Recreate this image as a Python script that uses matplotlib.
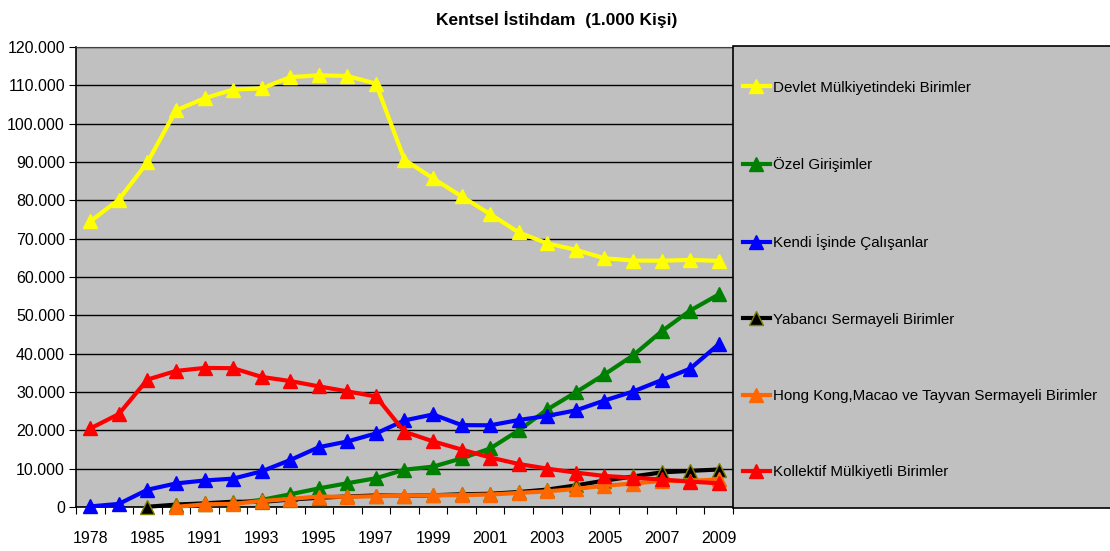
import numpy as np
import matplotlib
matplotlib.use("Agg")
from matplotlib import pyplot as plt
from matplotlib.patches import Rectangle
from matplotlib.ticker import FuncFormatter, MultipleLocator

plt.rcParams['font.family'] = ['Liberation Sans', 'DejaVu Sans']

nan = np.nan
years = ['1978', '1980', '1985', '1990', '1991', '1992', '1993', '1994', '1995', '1996', '1997',
         '1998', '1999', '2000', '2001', '2002', '2003', '2004', '2005', '2006', '2007', '2008', '2009']

devlet = [74510, 80190, 89900, 103460, 106640, 108890, 109200, 112140, 112610, 112440, 110440,
          90580, 85720, 81020, 76400, 71630, 68760, 67100, 64880, 64300, 64240, 64470, 64200]
ozel = [nan, nan, nan, 570, 680, 980, 1860, 3320, 4850, 6200, 7500,
        9730, 10530, 12680, 15270, 19990, 25450, 29940, 34580, 39540, 45810, 51240, 55440]
kendi = [150, 810, 4500, 6140, 6920, 7400, 9300, 12250, 15600, 17090, 19190,
         22590, 24140, 21360, 21310, 22690, 23770, 25210, 27780, 30120, 33100, 36090, 42450]
yabanci = [nan, nan, 60, 620, 960, 1380, 1330, 1950, 2410, 2750, 3000,
           2930, 3060, 3320, 3450, 3910, 4540, 5630, 6880, 7960, 9030, 9430, 9780]
hongkong = [nan, nan, nan, 40, 690, 830, 1550, 2110, 2720, 2650, 2810,
            2940, 3060, 3100, 3260, 3670, 4090, 4700, 5570, 6110, 6800, 6790, 7210]
kollektif = [20480, 24250, 33240, 35490, 36280, 36210, 33930, 32850, 31470, 30160, 28830,
             19630, 17120, 14990, 12910, 11220, 10000, 8970, 8100, 7640, 7180, 6620, 6180]

labels = ['Devlet Mülkiyetindeki Birimler', 'Özel Girişimler', 'Kendi İşinde Çalışanlar',
          'Yabancı Sermayeli Birimler', 'Hong Kong,Macao ve Tayvan Sermayeli Birimler',
          'Kollektif Mülkiyetli Birimler']
series = [devlet, ozel, kendi, yabanci, hongkong, kollektif]
colors = ['#FFFF00', '#008000', '#0000FF', '#000000', '#FF6600', '#FF0000']
edges = ['#FFFF00', '#008000', '#0000FF', '#808000', '#FF6600', '#FF0000']

fig = plt.figure(figsize=(11.1, 5.51), dpi=100)
ax = fig.add_axes([76/1110, 1-507/551, (733-76)/1110, (507-47)/551])
ax.set_facecolor('#C0C0C0')

x = np.arange(len(years))
handles = []
for vals, lab, c, ec in zip(series, labels, colors, edges):
    h, = ax.plot(x, vals, color=c, lw=3, marker='^', ms=10, mfc=c, mec=ec, mew=1,
                 label=lab, clip_on=False, zorder=3)
    handles.append(h)

ax.set_xlim(-0.5, len(years) - 0.5)
ax.set_ylim(0, 120000)
ax.yaxis.set_major_locator(MultipleLocator(10000))
ax.yaxis.set_major_formatter(FuncFormatter(lambda v, p: f"{v:,.0f}".replace(',', '.')))
ax.grid(axis='y', color='black', lw=1)
ax.set_axisbelow(True)

ax.set_xticks(np.arange(-0.5, len(years), 1))
ax.set_xticklabels([])
ax.set_xticks(x[::2], minor=True)
ax.set_xticklabels(years[::2], minor=True)
ax.tick_params(axis='x', which='major', length=5, direction='out', color='black')
ax.tick_params(axis='x', which='minor', length=0, pad=17, labelsize=11.5)
ax.tick_params(axis='y', length=5, direction='out', labelsize=11.5, pad=3)

for s in ['left', 'bottom']:
    ax.spines[s].set_color('black')
    ax.spines[s].set_linewidth(1.2)
ax.spines['top'].set_color('#404040')
ax.spines['right'].set_visible(False)

fig.text(557/1110, 1-19/551, 'Kentsel İstihdam  (1.000 Kişi)', ha='center', va='center',
         fontsize=12.5, fontweight='bold')

# legend box
fig.patches.append(Rectangle((733/1110, 1-508/551), (1115-733)/1110, (508-46)/551,
                             transform=fig.transFigure, facecolor='#C0C0C0',
                             edgecolor='black', lw=1.2, zorder=0))
leg = fig.legend(handles=handles, labels=labels, loc='upper left',
                 bbox_to_anchor=(735/1110, 1-73/551), frameon=False, fontsize=10.9,
                 handlelength=1.8, handletextpad=0.2, labelspacing=4.12, borderpad=0)

fig.savefig('out.png', dpi=100)
